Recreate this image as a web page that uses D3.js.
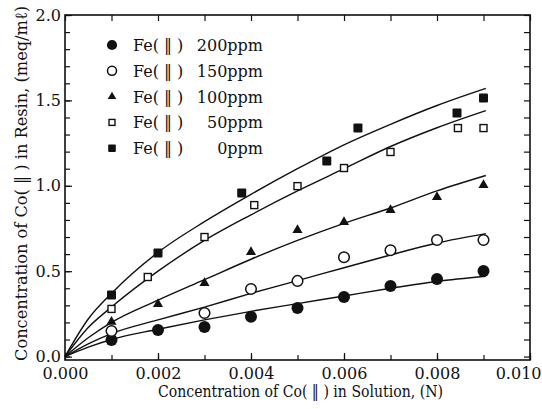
<!DOCTYPE html>
<html lang="en">
<head>
    <meta charset="UTF-8">
    <title>Co(II) uptake on resin</title>
    <style>
        body {
            margin: 0;
            padding: 0;
            background: #fff;
        }
        svg text {
            font-family: "DejaVu Serif", "Liberation Serif", serif;
            fill: #111;
        }
    </style>
</head>
<body>
    <div id="chart"></div>

    <script src="https://d3js.org/d3.v7.min.js"></script>
    <script>
        // legend labels
        var feLabel = "Fe( \u2016 )";
        var feLevels = ["200ppm", "150ppm", "100ppm", "50ppm", "0ppm"];

        // measured points (x in N, y in meq/ml)
        var ptX200 = [0.001, 0.002, 0.003, 0.004, 0.005, 0.006, 0.007, 0.008, 0.009];
        var ptY200 = [0.097, 0.156, 0.173, 0.233, 0.285, 0.349, 0.413, 0.454, 0.501];
        var ptX150 = [0.001, 0.003, 0.004, 0.005, 0.006, 0.007, 0.008, 0.009];
        var ptY150 = [0.15, 0.255, 0.396, 0.443, 0.582, 0.623, 0.683, 0.683];
        var ptX100 = [0.001, 0.002, 0.003, 0.004, 0.005, 0.006, 0.007, 0.008, 0.009];
        var ptY100 = [0.203, 0.308, 0.431, 0.612, 0.741, 0.788, 0.858, 0.934, 1.004];
        var ptX50 = [0.001, 0.00178, 0.003, 0.00407, 0.005, 0.006, 0.007, 0.00845, 0.009];
        var ptY50 = [0.279, 0.466, 0.70, 0.887, 0.998, 1.104, 1.198, 1.338, 1.338];
        var ptX0 = [0.001, 0.002, 0.0038, 0.00563, 0.0063, 0.00843, 0.009];
        var ptY0 = [0.361, 0.607, 0.958, 1.145, 1.338, 1.426, 1.514];

        // fitted curves
        var fitX = [0, 0.0005, 0.001, 0.002, 0.003, 0.004, 0.005, 0.006, 0.007, 0.008, 0.00905];
        var fit200 = [0, 0.055, 0.10, 0.16, 0.215, 0.265, 0.31, 0.355, 0.40, 0.44, 0.47];
        var fit150 = [0, 0.075, 0.135, 0.215, 0.29, 0.37, 0.445, 0.52, 0.595, 0.665, 0.72];
        var fit100 = [0, 0.11, 0.20, 0.33, 0.45, 0.57, 0.68, 0.78, 0.87, 0.97, 1.06];
        var fit50 = [0, 0.17, 0.29, 0.50, 0.68, 0.83, 0.97, 1.10, 1.23, 1.34, 1.44];
        var fit0 = [0, 0.22, 0.37, 0.61, 0.79, 0.95, 1.10, 1.24, 1.36, 1.47, 1.57];

        var xTicks = [0, 0.002, 0.004, 0.006, 0.008, 0.010];
        var yTicks = [0, 0.5, 1.0, 1.5, 2.0];

        var series = [
            { ppm: feLevels[0], xs: ptX200, ys: ptY200, fit: fit200, marker: "dot" },
            { ppm: feLevels[1], xs: ptX150, ys: ptY150, fit: fit150, marker: "ring" },
            { ppm: feLevels[2], xs: ptX100, ys: ptY100, fit: fit100, marker: "tri" },
            { ppm: feLevels[3], xs: ptX50, ys: ptY50, fit: fit50, marker: "box" },
            { ppm: feLevels[4], xs: ptX0, ys: ptY0, fit: fit0, marker: "block" }
        ];

        var svgWidth = 542;
        var svgHeight = 409;
        var margin = { top: 15, right: 12, bottom: 49, left: 65 };
        var width = svgWidth - margin.left - margin.right;
        var height = svgHeight - margin.top - margin.bottom;

        var svg = d3.select("#chart")
                    .append("svg")
                    .attr("width", svgWidth)
                    .attr("height", svgHeight)
                    .append("g")
                    .attr("transform", "translate(" + margin.left + "," + margin.top + ")");

        var x = d3.scaleLinear().domain([0, 0.010]).range([0, width]);
        var y = d3.scaleLinear().domain([-0.02, 2.0]).range([height, 0]);

        var minorX = d3.range(0, 0.0101, 0.001);
        var minorY = d3.range(0, 2.01, 0.1);

        function styleAxis(g) {
            g.select(".domain").remove();
            g.selectAll(".tick line").attr("stroke", "#111").attr("stroke-width", 1.2);
            g.selectAll(".tick text").style("font-size", "16px");
        }

        // bottom axis: majors + minors, inward ticks
        svg.append("g")
            .attr("transform", "translate(0," + height + ")")
            .call(d3.axisBottom(x).tickValues(minorX).tickSize(-5).tickFormat(""))
            .call(styleAxis);
        var xAxisG = svg.append("g")
            .attr("transform", "translate(0," + height + ")")
            .call(d3.axisBottom(x).tickValues(xTicks).tickSize(-7).tickPadding(8).tickFormat(d3.format(".3f")))
            .call(styleAxis);
        // last label sits against the right edge, as in the original
        xAxisG.selectAll(".tick text")
            .filter(function(d) { return d === 0.010; })
            .attr("text-anchor", "end")
            .attr("x", svgWidth - margin.left - x(0.010) - 1);

        // top axis
        svg.append("g")
            .call(d3.axisTop(x).tickValues(minorX).tickSize(-6).tickFormat(""))
            .call(styleAxis);

        // left axis
        svg.append("g")
            .call(d3.axisLeft(y).tickValues(minorY).tickSize(-5).tickFormat(""))
            .call(styleAxis);
        svg.append("g")
            .call(d3.axisLeft(y).tickValues(yTicks).tickSize(-7).tickPadding(4).tickFormat(d3.format(".1f")))
            .call(styleAxis);

        // right axis
        svg.append("g")
            .attr("transform", "translate(" + width + ",0)")
            .call(d3.axisRight(y).tickValues(minorY).tickSize(-6).tickFormat(""))
            .call(styleAxis);

        // frame
        svg.append("rect")
            .attr("x", 0)
            .attr("y", 0)
            .attr("width", width)
            .attr("height", height)
            .attr("fill", "none")
            .attr("stroke", "#111")
            .attr("stroke-width", 1.6);

        // fitted curves
        var line = d3.line()
            .x(function(d) { return x(d[0]); })
            .y(function(d) { return y(d[1]); })
            .curve(d3.curveMonotoneX);

        series.forEach(function(s) {
            svg.append("path")
                .datum(fitX.map(function(v, i) { return [v, s.fit[i]]; }))
                .attr("d", line)
                .attr("fill", "none")
                .attr("stroke", "#111")
                .attr("stroke-width", 1.4);
        });

        function drawMarker(g, type, cx, cy, scale) {
            scale = scale || 1;
            if (type === "dot") {
                g.append("circle").attr("cx", cx).attr("cy", cy).attr("r", 6 * scale).attr("fill", "#111");
            } else if (type === "ring") {
                g.append("circle").attr("cx", cx).attr("cy", cy).attr("r", 5.3 * scale)
                    .attr("fill", "#fff").attr("stroke", "#111").attr("stroke-width", 1.5);
            } else if (type === "tri") {
                g.append("path")
                    .attr("d", d3.symbol().type(d3.symbolTriangle).size(44 * scale * scale))
                    .attr("transform", "translate(" + cx + "," + cy + ")")
                    .attr("fill", "#111");
            } else if (type === "box") {
                var a = 7 * scale;
                g.append("rect").attr("x", cx - a / 2).attr("y", cy - a / 2).attr("width", a).attr("height", a)
                    .attr("fill", "#fff").attr("stroke", "#111").attr("stroke-width", 1.4);
            } else {
                var b = 9 * scale;
                g.append("rect").attr("x", cx - b / 2).attr("y", cy - b / 2).attr("width", b).attr("height", b)
                    .attr("rx", 1).attr("fill", "#111");
            }
        }

        // measured points
        series.forEach(function(s) {
            var g = svg.append("g");
            s.xs.forEach(function(v, i) {
                drawMarker(g, s.marker, x(v), y(s.ys[i]));
            });
        });

        // legend
        var legend = svg.append("g").attr("transform", "translate(47,30)");
        series.forEach(function(s, i) {
            var row = legend.append("g").attr("transform", "translate(0," + i * 25.8 + ")");
            drawMarker(row, s.marker, 0, 0, 0.85);
            row.append("text")
                .attr("x", 21)
                .attr("y", 6)
                .style("font-size", "16px")
                .text(feLabel);
            row.append("text")
                .attr("x", 151)
                .attr("y", 6)
                .attr("text-anchor", "end")
                .style("font-size", "16px")
                .text(s.ppm);
        });

        // axis titles
        svg.append("text")
            .attr("x", 300.5 - margin.left)
            .attr("y", height + 37)
            .attr("text-anchor", "middle")
            .attr("textLength", 285)
            .attr("lengthAdjust", "spacingAndGlyphs")
            .style("font-size", "16px")
            .text("Concentration of Co( \u2016 ) in Solution, (N)");

        svg.append("text")
            .attr("transform", "rotate(-90)")
            .attr("x", -(183.5 - margin.top))
            .attr("y", 27 - margin.left)
            .attr("text-anchor", "middle")
            .attr("textLength", 355)
            .attr("lengthAdjust", "spacingAndGlyphs")
            .style("font-size", "17px")
            .text("Concentration of Co( \u2016 ) in Resin, (meq/m\u2113)");
    </script>
</body>
</html>
